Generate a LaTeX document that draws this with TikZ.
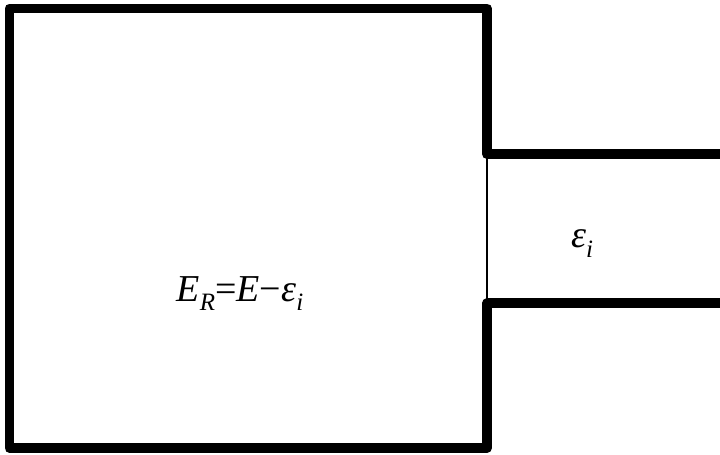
\documentclass[tikz,border=0pt]{standalone}
\usepackage{fontspec}
\setmainfont{Liberation Serif}
\newcommand{\lowidx}[1]{\raisebox{-0.26em}{\fontsize{12.5}{14}\selectfont\itshape #1}}
\tikzset{
  wall/.style={line width=5pt, line join=round, line cap=butt},
  gap/.style={line width=0.6pt},
  energy/.style={font=\fontsize{19}{22}\selectfont\itshape, inner sep=0pt, anchor=base}
}
\begin{document}
\begin{tikzpicture}[x=0.5pt,y=-0.5pt]
\useasboundingbox (0,0) rectangle (720,455);
% reservoir and attached system
\coordinate (top) at (487,154);
\coordinate (bot) at (487,303.5);
\draw[wall] (720,154) -- (top) -- (487,8.5) -- (9.5,8.5) -- (9.5,448) -- (487,448) -- (bot) -- (720,303.5);
\draw[gap] (top) -- (bot);
\node[energy] (reservoir) at (240,301) {E\lowidx{R}{\upshape =}E{\upshape −}ε\lowidx{i}};
\node[energy] (system) at (582,248) {ε\lowidx{i}};
\end{tikzpicture}
\end{document}
